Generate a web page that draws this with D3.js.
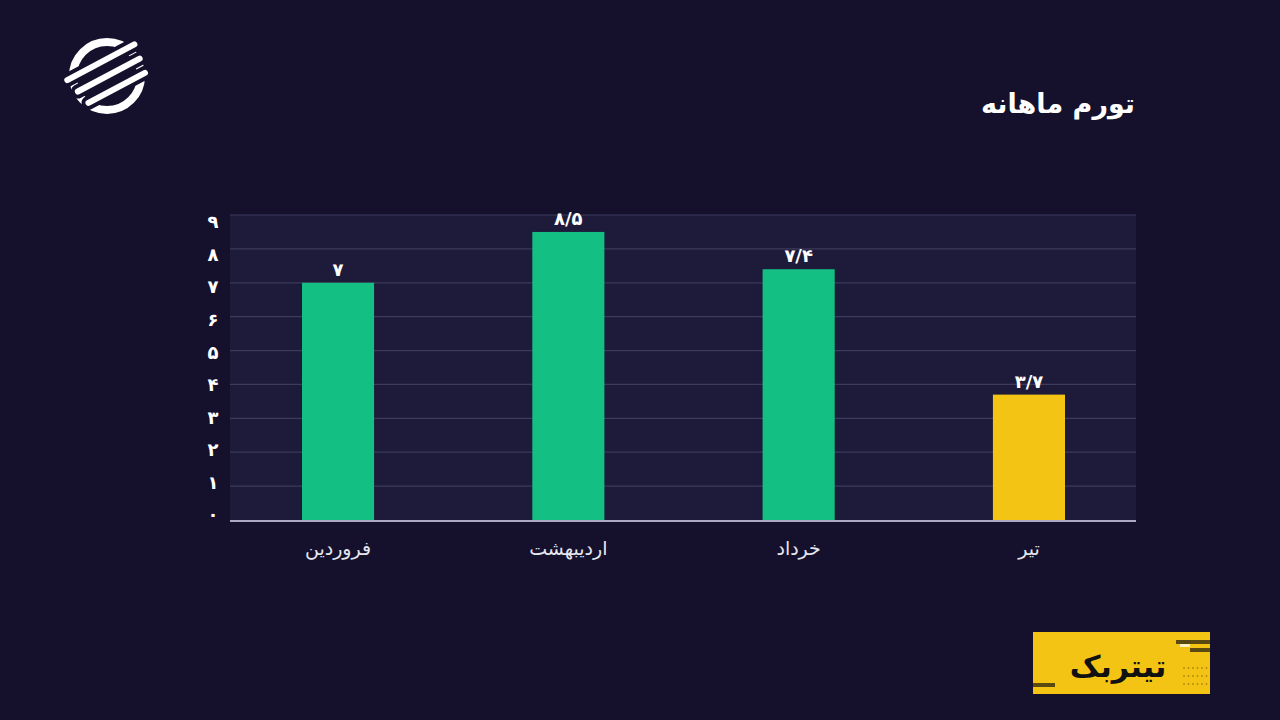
<!DOCTYPE html>
<html>
<head>
<meta charset="utf-8">
<script src="https://cdn.jsdelivr.net/npm/d3@7"></script>
<style>
  html, body { margin: 0; padding: 0; background: #15112d; }
  svg { display: block; }
</style>
</head>
<body>
<svg id="chart"></svg>
<script>
const width = 1280;
const height = 720;

// data
const months = ["فروردین", "اردیبهشت", "خرداد", "تیر"];
const values = [7, 8.5, 7.4, 3.7];
const valueLabels = ["۷", "۸/۵", "۷/۴", "۳/۷"];
const barColors = ["#13bf82", "#13bf82", "#13bf82", "#f4c414"];
const yTicks = [0, 1, 2, 3, 4, 5, 6, 7, 8, 9];
const yTickLabels = ["۰", "۱", "۲", "۳", "۴", "۵", "۶", "۷", "۸", "۹"];
const title = "تورم ماهانه";
const brand = "تیتربک";

const font = "'DejaVu Sans', sans-serif";

const svg = d3.select("#chart")
    .attr("width", width)
    .attr("height", height);

svg.append("rect")
    .attr("width", width)
    .attr("height", height)
    .attr("fill", "#15112d");

const plot = { left: 230, right: 1136, top: 215, bottom: 520 };

const x = d3.scaleBand()
    .domain(months)
    .range([223, 1144])
    .paddingInner(0.687)
    .paddingOuter(0.343);

const y = d3.scaleLinear()
    .domain([0, 9])
    .range([plot.bottom, plot.top]);

// tick labels sit a little inside the gridline span
const yLabel = d3.scaleLinear()
    .domain([0, 9])
    .range([515, 222]);

// plot background
svg.append("rect")
    .attr("x", plot.left)
    .attr("y", plot.top)
    .attr("width", plot.right - plot.left)
    .attr("height", plot.bottom - plot.top)
    .attr("fill", "#1d1a3a");

// grid
svg.append("g")
    .selectAll("line")
    .data(yTicks.filter(d => d > 0))
    .join("line")
    .attr("x1", plot.left)
    .attr("x2", plot.right)
    .attr("y1", d => y(d))
    .attr("y2", d => y(d))
    .attr("stroke", "#3d3a5c")
    .attr("stroke-width", 1.2);

// y tick labels
svg.append("g")
    .selectAll("text")
    .data(yTicks)
    .join("text")
    .attr("x", 213)
    .attr("y", d => yLabel(d))
    .attr("dy", "0.35em")
    .attr("text-anchor", "middle")
    .attr("fill", "#ffffff")
    .style("font-family", font)
    .style("font-size", "18px")
    .style("font-weight", "bold")
    .text((d, i) => yTickLabels[i]);

// bars
svg.append("g")
    .selectAll("rect")
    .data(values)
    .join("rect")
    .attr("x", (d, i) => x(months[i]))
    .attr("y", d => y(d))
    .attr("width", x.bandwidth())
    .attr("height", d => y(0) - y(d))
    .attr("fill", (d, i) => barColors[i]);

// baseline
svg.append("line")
    .attr("x1", plot.left)
    .attr("x2", plot.right)
    .attr("y1", y(0) + 1)
    .attr("y2", y(0) + 1)
    .attr("stroke", "#aaa8c2")
    .attr("stroke-width", 2);

// value labels
svg.append("g")
    .selectAll("text")
    .data(values)
    .join("text")
    .attr("x", (d, i) => x(months[i]) + x.bandwidth() / 2)
    .attr("y", d => y(d) - 7)
    .attr("text-anchor", "middle")
    .attr("fill", "#ffffff")
    .style("font-family", font)
    .style("font-size", "18px")
    .style("font-weight", "bold")
    .text((d, i) => valueLabels[i]);

// x axis labels
svg.append("g")
    .selectAll("text")
    .data(months)
    .join("text")
    .attr("x", d => x(d) + x.bandwidth() / 2)
    .attr("y", 555)
    .attr("text-anchor", "middle")
    .attr("direction", "rtl")
    .attr("fill", "#e6e6ee")
    .style("font-family", font)
    .style("font-size", "19px")
    .text(d => d);

// title
svg.append("text")
    .attr("x", 1135)
    .attr("y", 113)
    .attr("text-anchor", "start")
    .attr("direction", "rtl")
    .attr("fill", "#ffffff")
    .style("font-family", font)
    .style("font-size", "27px")
    .style("font-weight", "bold")
    .text(title);

// logo
const logo = svg.append("g")
    .attr("transform", "translate(107,76)");

logo.append("circle")
    .attr("r", 34)
    .attr("fill", "none")
    .attr("stroke", "#ffffff")
    .attr("stroke-width", 8);

[-15, 0, 15].forEach((off, i) => {
    logo.append("rect")
        .attr("x", -42 + i * 4)
        .attr("y", off - 5)
        .attr("width", 86 - i * 6)
        .attr("height", 10)
        .attr("rx", 5)
        .attr("fill", "#ffffff")
        .attr("stroke", "#15112d")
        .attr("stroke-width", 4)
        .attr("transform", "rotate(-28)");
});

// brand badge
const badge = svg.append("g");

badge.append("rect")
    .attr("x", 1033)
    .attr("y", 632)
    .attr("width", 177)
    .attr("height", 62)
    .attr("fill", "#f4c414");

badge.append("rect")
    .attr("x", 1176).attr("y", 640).attr("width", 34).attr("height", 4)
    .attr("fill", "#5a4a12");
badge.append("rect")
    .attr("x", 1190).attr("y", 648).attr("width", 20).attr("height", 4)
    .attr("fill", "#5a4a12");
badge.append("rect")
    .attr("x", 1180).attr("y", 644).attr("width", 10).attr("height", 3)
    .attr("fill", "#fff3c0");
badge.append("rect")
    .attr("x", 1033).attr("y", 683).attr("width", 22).attr("height", 4)
    .attr("fill", "#5a4a12");

for (let r = 0; r < 3; r++) {
    for (let c = 0; c < 6; c++) {
        badge.append("circle")
            .attr("cx", 1184 + c * 4.5)
            .attr("cy", 668 + r * 8)
            .attr("r", 0.9)
            .attr("fill", "#b08a10");
    }
}

badge.append("text")
    .attr("x", 1118)
    .attr("y", 677)
    .attr("text-anchor", "middle")
    .attr("direction", "rtl")
    .attr("fill", "#111111")
    .style("font-family", font)
    .style("font-size", "30px")
    .style("font-weight", "bold")
    .text(brand);
</script>
</body>
</html>
